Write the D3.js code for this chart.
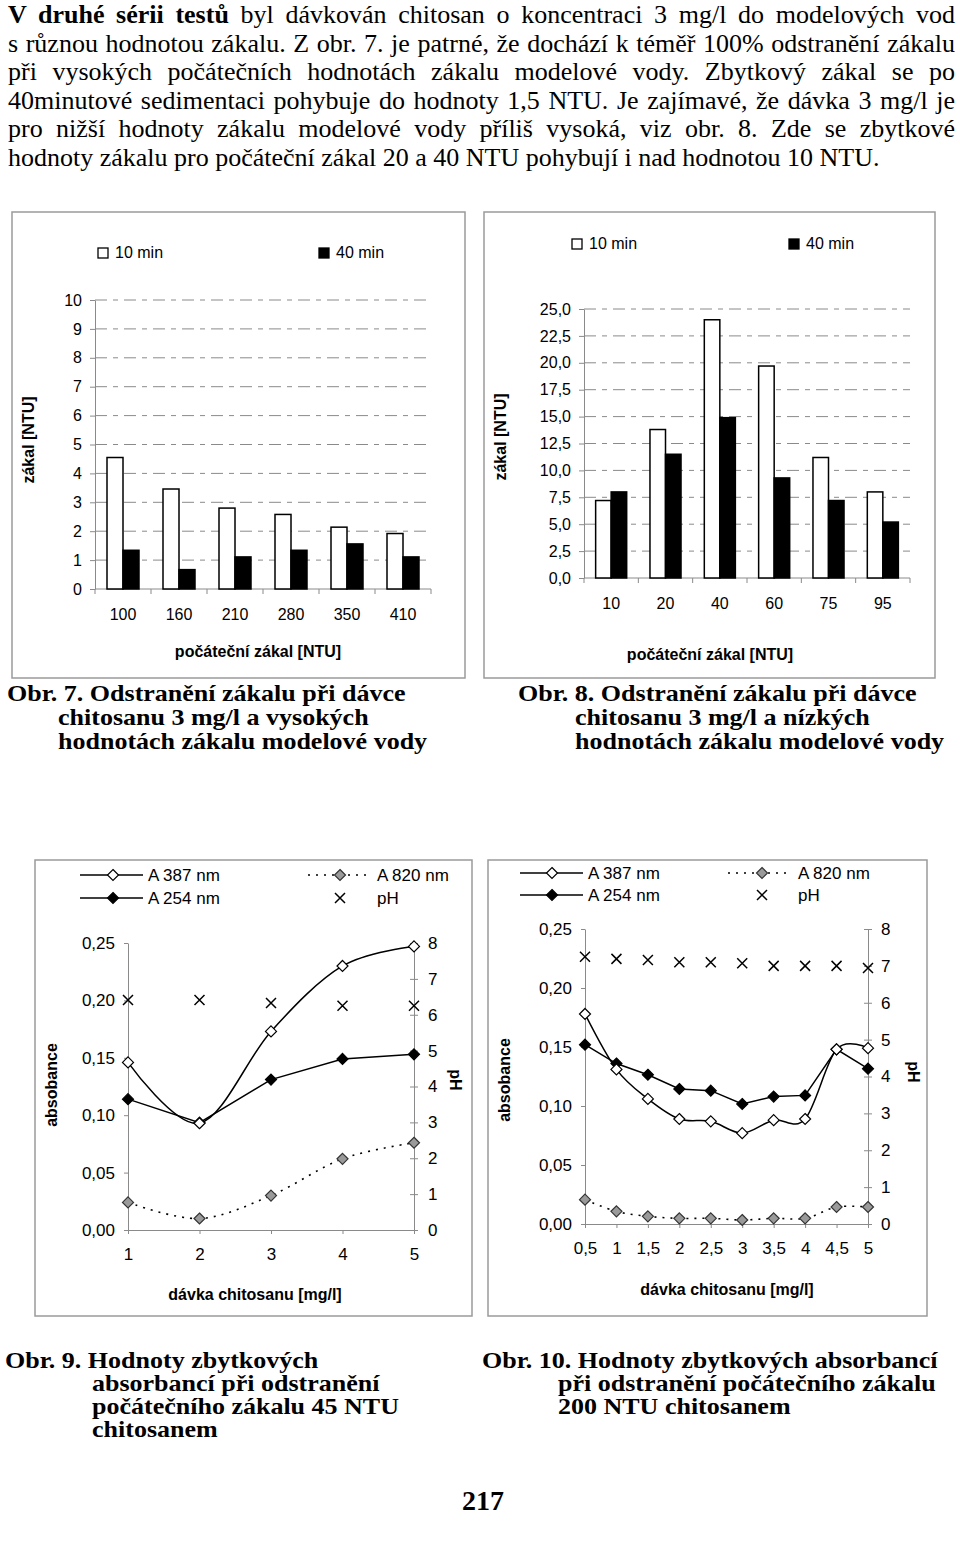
<!DOCTYPE html>
<html><head><meta charset="utf-8">
<script src="https://cdn.jsdelivr.net/npm/d3@7"></script>
<style>body{margin:0;background:#fff}</style>
</head><body>
<svg id="page" width="960" height="1543"></svg>
<script>
// ---------- DATA ----------
const paragraphLines = [
  [["V druhé sérii testů", true], [" byl dávkován chitosan o koncentraci 3 mg/l do modelových vod", false]],
  [["s různou hodnotou zákalu. Z obr. 7. je patrné, že dochází k téměř 100% odstranění zákalu", false]],
  [["při vysokých počátečních hodnotách zákalu modelové vody. Zbytkový zákal se po", false]],
  [["40minutové sedimentaci pohybuje do hodnoty 1,5 NTU.  Je zajímavé, že dávka 3 mg/l je", false]],
  [["pro nižší hodnoty zákalu modelové vody příliš vysoká, viz obr. 8. Zde se zbytkové", false]],
  [["hodnoty zákalu pro počáteční zákal 20 a 40 NTU pohybují i nad hodnotou 10 NTU.", false]]
];

const barSeriesNames = ["10 min", "40 min"];

const fig7Categories = ["100", "160", "210", "280", "350", "410"];
const fig7Min10 = [4.55, 3.46, 2.80, 2.58, 2.14, 1.92];
const fig7Min40 = [1.34, 0.67, 1.11, 1.34, 1.56, 1.11];
const fig7YTicks = [0, 1, 2, 3, 4, 5, 6, 7, 8, 9, 10];

const fig8Categories = ["10", "20", "40", "60", "75", "95"];
const fig8Min10 = [7.2, 13.8, 24.0, 19.7, 11.2, 8.0];
const fig8Min40 = [8.0, 11.5, 14.9, 9.3, 7.2, 5.2];
const fig8YTicks = [0, 2.5, 5, 7.5, 10, 12.5, 15, 17.5, 20, 22.5, 25];

const lineSeriesNames = ["A 387 nm", "A 254 nm", "A 820 nm", "pH"];
const absTicks = [0, 0.05, 0.10, 0.15, 0.20, 0.25];
const phTicks = [0, 1, 2, 3, 4, 5, 6, 7, 8];

const fig9Dose = [1, 2, 3, 4, 5];
const fig9A387 = [0.146, 0.093, 0.173, 0.230, 0.247];
const fig9A254 = [0.114, 0.0935, 0.131, 0.149, 0.153];
const fig9A820 = [0.024, 0.010, 0.030, 0.062, 0.076];
const fig9pH = [6.41, 6.41, 6.33, 6.25, 6.25];

const fig10Dose = [0.5, 1, 1.5, 2, 2.5, 3, 3.5, 4, 4.5, 5];
const fig10A387 = [0.178, 0.131, 0.106, 0.089, 0.087, 0.077, 0.088, 0.089, 0.148, 0.149];
const fig10A254 = [0.152, 0.136, 0.1265, 0.1144, 0.113, 0.1017, 0.108, 0.109, 0.148, 0.1316];
const fig10A820 = [0.0206, 0.0107, 0.0065, 0.0048, 0.0048, 0.0034, 0.0048, 0.0048, 0.0144, 0.0144];
const fig10pH = [7.25, 7.19, 7.16, 7.10, 7.10, 7.07, 7.0, 7.0, 7.0, 6.94];

const captions = [
  {x: 7, x2: 58, y: 701, dy: 24, lines: ["Obr. 7. Odstranění zákalu při dávce", "chitosanu 3 mg/l a vysokých", "hodnotách zákalu modelové vody"]},
  {x: 518, x2: 575, y: 701, dy: 24, lines: ["Obr. 8. Odstranění zákalu při dávce", "chitosanu 3 mg/l a nízkých", "hodnotách zákalu modelové vody"]},
  {x: 5, x2: 92, y: 1368, dy: 23, lines: ["Obr. 9. Hodnoty zbytkových", "absorbancí při odstranění", "počátečního zákalu 45 NTU", "chitosanem"]},
  {x: 482, x2: 558, y: 1368, dy: 23, lines: ["Obr. 10. Hodnoty zbytkových absorbancí", "při odstranění počátečního zákalu", "200 NTU chitosanem"]}
];
const pageNumber = "217";

// ---------- DRAWING ----------
const svg = d3.select("#page");
const SANS = "'Liberation Sans', Arial, sans-serif";
const SERIF = "'Liberation Serif', 'Times New Roman', serif";
const AXIS = "#8a8a8a";
const commaFmt = f => v => d3.format(f)(v).replace(".", ",");

// paragraph
paragraphLines.forEach((parts, i) => {
  const t = svg.append("text").attr("x", 8).attr("y", 23 + i * 28.6)
    .attr("font-family", SERIF).attr("font-size", 26).attr("fill", "#000");
  parts.forEach(([s, b]) => t.append("tspan").text(s).attr("font-weight", b ? "bold" : "normal"));
  if (i < paragraphLines.length - 1) {
    const nat = t.node().getComputedTextLength();
    const full = parts.map(p => p[0]).join("").replace(/\s+/g, " ");
    const spaces = (full.match(/ /g) || []).length;
    t.attr("word-spacing", (947 - nat) / spaces);
  }
});

// captions (slightly smaller font, stretched to the reference width)
const CAP_FS = 23, CAP_STRETCH = 26 / 23;
captions.forEach(c => {
  c.lines.forEach((s, i) => {
    const t = svg.append("text").attr("x", i === 0 ? c.x : c.x2).attr("y", c.y + i * c.dy)
      .attr("font-family", SERIF).attr("font-size", CAP_FS).attr("font-weight", "bold").text(s);
    const nat = t.node().getComputedTextLength();
    t.attr("textLength", nat * CAP_STRETCH).attr("lengthAdjust", "spacingAndGlyphs");
  });
});
svg.append("text").attr("x", 483).attr("y", 1510).attr("text-anchor", "middle")
  .attr("font-family", SERIF).attr("font-size", 28).attr("font-weight", "bold").text(pageNumber);

function frame(x, y, w, h) {
  svg.append("rect").attr("x", x).attr("y", y).attr("width", w).attr("height", h)
    .attr("fill", "none").attr("stroke", "#9a9a9a").attr("stroke-width", 1.5);
}

const BFS = 16;
function barChart(cfg) {
  frame(cfg.fx, cfg.fy, cfg.fw, cfg.fh);
  const g = svg.append("g");
  const x0 = d3.scaleBand().domain(cfg.cats).range([cfg.left, cfg.right]);
  const x1 = d3.scaleBand().domain(barSeriesNames).range([0, x0.bandwidth()]).paddingOuter(0.75);
  const y = d3.scaleLinear().domain([0, cfg.max]).range([cfg.bottom, cfg.top]);

  g.selectAll(".grid").data(cfg.ticks.filter(t => t > 0)).join("line")
    .attr("x1", cfg.left).attr("x2", cfg.right)
    .attr("y1", d => y(d)).attr("y2", d => y(d))
    .attr("stroke", AXIS).attr("stroke-width", 1).attr("stroke-dasharray", "12,6,5,6");

  const ya = g.append("g").attr("transform", `translate(${cfg.left},0)`)
    .call(d3.axisLeft(y).tickValues(cfg.ticks).tickFormat(cfg.fmt).tickSize(5).tickSizeOuter(0).tickPadding(8));
  ya.select(".domain").attr("stroke", AXIS);
  ya.selectAll(".tick line").attr("stroke", AXIS);
  ya.selectAll(".tick text").attr("font-family", SANS).attr("font-size", BFS).attr("fill", "#000");

  g.append("line").attr("x1", cfg.left).attr("x2", cfg.right).attr("y1", y(0)).attr("y2", y(0)).attr("stroke", AXIS);
  const bounds = cfg.cats.map(c => x0(c)).concat([cfg.right]);
  g.selectAll(".xt").data(bounds).join("line")
    .attr("x1", d => d).attr("x2", d => d).attr("y1", y(0)).attr("y2", y(0) + 5).attr("stroke", AXIS);
  g.selectAll(".xl").data(cfg.cats).join("text")
    .attr("x", c => x0(c) + x0.bandwidth() / 2).attr("y", y(0) + 31)
    .attr("text-anchor", "middle").attr("font-family", SANS).attr("font-size", BFS).text(c => c);

  const series = [cfg.s10, cfg.s40];
  series.forEach((vals, si) => {
    g.selectAll(".bar" + si).data(vals).join("rect")
      .attr("x", (v, i) => x0(cfg.cats[i]) + x1(barSeriesNames[si]))
      .attr("width", x1.bandwidth())
      .attr("y", v => y(v)).attr("height", v => y(0) - y(v))
      .attr("fill", si === 0 ? "#fff" : "#000").attr("stroke", "#000").attr("stroke-width", 1.5);
  });

  // legend
  cfg.legend.forEach((L, i) => {
    g.append("rect").attr("x", L.x).attr("y", cfg.legY - 10).attr("width", 10).attr("height", 10)
      .attr("fill", i === 0 ? "#fff" : "#000").attr("stroke", "#000").attr("stroke-width", 1.3);
    g.append("text").attr("x", L.x + 17).attr("y", cfg.legY)
      .attr("font-family", SANS).attr("font-size", BFS).text(barSeriesNames[i]);
  });
  g.append("text").attr("x", cfg.xtX).attr("y", cfg.xtY).attr("text-anchor", "middle")
    .attr("font-family", SANS).attr("font-size", BFS).attr("font-weight", "bold").text("počáteční zákal [NTU]");
  g.append("text").attr("transform", `translate(${cfg.ytX},${cfg.ytY}) rotate(-90)`).attr("text-anchor", "middle")
    .attr("font-family", SANS).attr("font-size", BFS).attr("font-weight", "bold").text("zákal [NTU]");
}

barChart({fx: 12, fy: 212, fw: 453, fh: 466, cats: fig7Categories, s10: fig7Min10, s40: fig7Min40,
  max: 10, ticks: fig7YTicks, fmt: d3.format("d"), left: 95, right: 431, top: 300, bottom: 589,
  legY: 258, legend: [{x: 98}, {x: 319}], xtX: 258, xtY: 657, ytX: 34, ytY: 440});
barChart({fx: 484, fy: 212, fw: 451, fh: 466, cats: fig8Categories, s10: fig8Min10, s40: fig8Min40,
  max: 25, ticks: fig8YTicks, fmt: commaFmt(".1f"), left: 584, right: 910, top: 309, bottom: 578,
  legY: 249, legend: [{x: 572}, {x: 789}], xtX: 710, xtY: 660, ytX: 506, ytY: 437});

const diamond = "M0,-5.5L5.5,0L0,5.5L-5.5,0Z";
const cross = "M-5,-5L5,5M-5,5L5,-5";
const LFS = 17;

function lineChart(cfg) {
  frame(cfg.fx, cfg.fy, cfg.fw, cfg.fh);
  const g = svg.append("g");
  const x = d3.scaleLinear().domain(d3.extent(cfg.dose)).range([cfg.left, cfg.right]);
  const yL = d3.scaleLinear().domain([0, 0.25]).range([cfg.bottom, cfg.top]);
  const yR = d3.scaleLinear().domain([0, 8]).range([cfg.bottom, cfg.top]);

  const la = g.append("g").attr("transform", `translate(${cfg.left},0)`)
    .call(d3.axisLeft(yL).tickValues(absTicks).tickFormat(commaFmt(".2f")).tickSize(4).tickSizeOuter(0).tickPadding(9));
  const ra = g.append("g").attr("transform", `translate(${cfg.right},0)`)
    .call(d3.axisRight(yR).tickValues(phTicks).tickFormat(d3.format("d")).tickSize(4).tickSizeOuter(0).tickPadding(cfg.rPad));
  ra.selectAll(".tick").append("line").attr("x1", -4).attr("x2", 0);
  const xa = g.append("g").attr("transform", `translate(0,${cfg.bottom})`)
    .call(d3.axisBottom(x).tickValues(cfg.dose).tickFormat(cfg.xfmt).tickSize(4).tickSizeOuter(0).tickPadding(14));
  [la, ra, xa].forEach(a => {
    a.select(".domain").attr("stroke", AXIS);
    a.selectAll(".tick line").attr("stroke", AXIS);
    a.selectAll(".tick text").attr("font-family", SANS).attr("font-size", LFS).attr("fill", "#000");
  });

  const smooth = d3.curveCatmullRom.alpha(0);
  const mk = (vals, sc) => vals.map((v, i) => [x(cfg.dose[i]), sc(v)]);
  const p387 = mk(cfg.a387, yL), p254 = mk(cfg.a254, yL), p820 = mk(cfg.a820, yL), pph = mk(cfg.ph, yR);

  g.append("path").attr("d", d3.line().curve(smooth)(p820)).attr("fill", "none")
    .attr("stroke", "#000").attr("stroke-width", 1.6).attr("stroke-dasharray", "2,6");
  g.append("path").attr("d", d3.line().curve(smooth)(p387)).attr("fill", "none")
    .attr("stroke", "#000").attr("stroke-width", 1.5);
  g.append("path").attr("d", d3.line()(p254)).attr("fill", "none")
    .attr("stroke", "#000").attr("stroke-width", 1.5);

  const markers = (pts, fill, stroke) => g.selectAll(null).data(pts).join("path")
    .attr("transform", d => `translate(${d[0]},${d[1]})`).attr("d", diamond)
    .attr("fill", fill).attr("stroke", stroke).attr("stroke-width", 1.2);
  markers(p820, "#9a9a9a", "#333");
  markers(p254, "#000", "#000");
  markers(p387, "#fff", "#000");
  g.selectAll(null).data(pph).join("path")
    .attr("transform", d => `translate(${d[0]},${d[1]})`).attr("d", cross)
    .attr("fill", "none").attr("stroke", "#000").attr("stroke-width", 1.5);

  // legend
  const L = cfg.leg;
  const legText = (tx, ty, s) => g.append("text").attr("x", tx).attr("y", ty + 6)
    .attr("font-family", SANS).attr("font-size", LFS).text(s);
  [[L.y1, "#fff", lineSeriesNames[0]], [L.y2, "#000", lineSeriesNames[1]]].forEach(([yy, f, s]) => {
    g.append("line").attr("x1", L.lx1).attr("x2", L.lx2).attr("y1", yy).attr("y2", yy).attr("stroke", "#000").attr("stroke-width", 1.5);
    g.append("path").attr("transform", `translate(${L.lm},${yy})`).attr("d", diamond).attr("fill", f).attr("stroke", "#000").attr("stroke-width", 1.2);
    legText(L.lt, yy, s);
  });
  g.append("line").attr("x1", L.rx1).attr("x2", L.rx2).attr("y1", L.y1).attr("y2", L.y1)
    .attr("stroke", "#000").attr("stroke-width", 1.6).attr("stroke-dasharray", "2,6");
  g.append("path").attr("transform", `translate(${L.rm},${L.y1})`).attr("d", diamond).attr("fill", "#9a9a9a").attr("stroke", "#333").attr("stroke-width", 1.2);
  legText(L.rt, L.y1, lineSeriesNames[2]);
  g.append("path").attr("transform", `translate(${L.rm},${L.y2})`).attr("d", cross).attr("fill", "none").attr("stroke", "#000").attr("stroke-width", 1.5);
  legText(L.rt, L.y2, lineSeriesNames[3]);

  g.append("text").attr("x", cfg.xtX).attr("y", cfg.xtY).attr("text-anchor", "middle")
    .attr("font-family", SANS).attr("font-size", 16).attr("font-weight", "bold").text("dávka chitosanu [mg/l]");
  g.append("text").attr("transform", `translate(${cfg.ytX},${cfg.ytY}) rotate(-90)`).attr("text-anchor", "middle")
    .attr("font-family", SANS).attr("font-size", 16).attr("font-weight", "bold").text("absobance");
  g.append("text").attr("transform", `translate(${cfg.phX},${cfg.phY}) rotate(90)`).attr("text-anchor", "middle")
    .attr("font-family", SANS).attr("font-size", 16).attr("font-weight", "bold").text("pH");
}

lineChart({fx: 35, fy: 860, fw: 437, fh: 456, dose: fig9Dose, a387: fig9A387, a254: fig9A254, a820: fig9A820, ph: fig9pH,
  left: 128, right: 414, top: 943, bottom: 1230, rPad: 10, xfmt: d3.format("d"),
  leg: {y1: 875, y2: 898, lx1: 80, lx2: 143, lm: 113, lt: 148, rx1: 308, rx2: 370, rm: 340, rt: 377},
  xtX: 255, xtY: 1300, ytX: 57, ytY: 1085, phX: 450, phY: 1080});
lineChart({fx: 488, fy: 860, fw: 439, fh: 456, dose: fig10Dose, a387: fig10A387, a254: fig10A254, a820: fig10A820, ph: fig10pH,
  left: 585, right: 868, top: 929, bottom: 1224, rPad: 9, xfmt: v => String(v).replace(".", ","),
  leg: {y1: 873, y2: 895, lx1: 520, lx2: 583, lm: 552, lt: 588, rx1: 728, rx2: 792, rm: 762, rt: 798},
  xtX: 727, xtY: 1295, ytX: 510, ytY: 1080, phX: 908, phY: 1072});
</script>
</body></html>
